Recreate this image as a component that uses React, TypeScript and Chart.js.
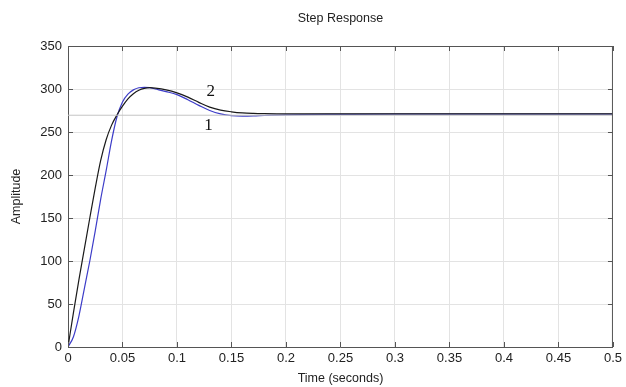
import { useEffect, useRef } from 'react';
import { Chart, registerables } from 'chart.js';

Chart.register(...registerables);

// ---- data ----
const timeS = [0, 0.005, 0.01, 0.015, 0.02, 0.025, 0.03, 0.035, 0.04, 0.045, 0.05, 0.055, 0.06, 0.065, 0.07, 0.075, 0.08, 0.09, 0.1, 0.11, 0.12, 0.13, 0.14, 0.15, 0.16, 0.17, 0.18, 0.2, 0.25, 0.3, 0.35, 0.4, 0.45, 0.5];
// curve 1 (blue)
const response1 = [0, 12, 36, 68, 100, 135, 172, 205, 240, 268, 285, 294, 299, 301.5, 302, 301.5, 300, 297, 293.5, 287.5, 281, 275, 271, 269, 268.5, 268.7, 269.2, 270, 270.5, 270.8, 270.8, 270.8, 270.8, 270.8];
// curve 2 (black)
const response2 = [0, 40, 78, 114, 150, 185, 217, 241, 258, 270, 280, 288.5, 294.5, 298.5, 300.7, 301.5, 301, 299, 295.5, 290.5, 284.5, 279, 275.5, 273.5, 272.2, 271.6, 271.3, 271, 271, 271, 271, 271, 271, 271];
const steadyLevel = 269.5;

const xTicks = [0, 0.05, 0.1, 0.15, 0.2, 0.25, 0.3, 0.35, 0.4, 0.45, 0.5];
const xTickLabels = ['0', '0.05', '0.1', '0.15', '0.2', '0.25', '0.3', '0.35', '0.4', '0.45', '0.5'];
const yTicks = [0, 50, 100, 150, 200, 250, 300, 350];
const yTickLabels = ['0', '50', '100', '150', '200', '250', '300', '350'];

const curveLabels = ['1', '2'];
const curveLabelT = [0.129, 0.131];
const curveLabelV = [257, 296.5];

const titleText = 'Step Response';
const xTitle = 'Time (seconds)';
const yTitle = 'Amplitude';

const SANS = '"Liberation Sans", Arial, Helvetica, sans-serif';
const SERIF = '"Liberation Serif", "Times New Roman", serif';

const framePlugin = {
  id: 'frame',
  afterDatasetsDraw(chart: any) {
    const { ctx, chartArea } = chart;
    const { left, right, top, bottom } = chartArea;
    const xs = chart.scales.x;
    const ys = chart.scales.y;
    ctx.save();
    // curve labels
    ctx.fillStyle = '#111';
    ctx.font = `17px ${SERIF}`;
    ctx.textAlign = 'center';
    ctx.textBaseline = 'middle';
    curveLabels.forEach((l, i) => {
      ctx.fillText(l, xs.getPixelForValue(curveLabelT[i]), ys.getPixelForValue(curveLabelV[i]));
    });
    // box top and right
    ctx.strokeStyle = '#555';
    ctx.lineWidth = 1;
    ctx.beginPath();
    ctx.moveTo(left, top + 0.5);
    ctx.lineTo(right, top + 0.5);
    ctx.moveTo(right - 0.5, top);
    ctx.lineTo(right - 0.5, bottom);
    ctx.stroke();
    // inner ticks
    const tl = 5;
    ctx.beginPath();
    xTicks.forEach((v) => {
      const px = Math.round(xs.getPixelForValue(v)) + 0.5;
      ctx.moveTo(px, bottom);
      ctx.lineTo(px, bottom - tl);
      ctx.moveTo(px, top);
      ctx.lineTo(px, top + tl);
    });
    yTicks.forEach((v) => {
      const py = Math.round(ys.getPixelForValue(v)) + 0.5;
      ctx.moveTo(left, py);
      ctx.lineTo(left + tl, py);
      ctx.moveTo(right, py);
      ctx.lineTo(right - tl, py);
    });
    ctx.stroke();
    // titles
    ctx.fillStyle = '#222';
    ctx.font = `12.5px ${SANS}`;
    ctx.textAlign = 'center';
    ctx.textBaseline = 'middle';
    const cx = (left + right) / 2;
    ctx.fillText(titleText, cx, 19);
    ctx.fillText(xTitle, cx, 379);
    ctx.translate(17, (top + bottom) / 2);
    ctx.rotate(-Math.PI / 2);
    ctx.fillText(yTitle, 0, 0);
    ctx.restore();
  },
};

export default function App() {
  const ref = useRef<HTMLCanvasElement>(null);
  useEffect(() => {
    if (!ref.current) return;
    const tickFont = { family: SANS, size: 13 };
    const chart = new Chart(ref.current, {
      type: 'line',
      data: {
        datasets: [
          {
            label: 'steady',
            data: [
              { x: 0, y: steadyLevel },
              { x: 0.5, y: steadyLevel },
            ],
            borderColor: '#c4c4c4',
            borderWidth: 1,
            pointRadius: 0,
          },
          {
            label: '2',
            data: timeS.map((t, i) => ({ x: t, y: response2[i] })),
            borderColor: '#1a1a1a',
            borderWidth: 1.2,
            pointRadius: 0,
            cubicInterpolationMode: 'monotone',
          },
          {
            label: '1',
            data: timeS.map((t, i) => ({ x: t, y: response1[i] })),
            borderColor: '#3c3cc8',
            borderWidth: 1.2,
            pointRadius: 0,
            cubicInterpolationMode: 'monotone',
          },
        ],
      },
      options: {
        animation: false,
        responsive: false,
        layout: { padding: { top: 46, right: 9, left: 0, bottom: 0 } },
        plugins: { legend: { display: false }, tooltip: { enabled: false }, title: { display: false } },
        scales: {
          x: {
            type: 'linear',
            min: 0,
            max: 0.5,
            afterBuildTicks: (s: any) => {
              s.ticks = xTicks.map((v) => ({ value: v }));
            },
            afterFit: (s: any) => {
              s.height = 40;
            },
            ticks: {
              callback: (_v: any, i: number) => xTickLabels[i],
              maxRotation: 0,
              autoSkip: false,
              padding: 4,
              font: tickFont,
              color: '#222',
            },
            grid: { color: '#e3e3e3', drawTicks: false },
            border: { color: '#555' },
          },
          y: {
            type: 'linear',
            min: 0,
            max: 350,
            afterBuildTicks: (s: any) => {
              s.ticks = yTicks.map((v) => ({ value: v }));
            },
            afterFit: (s: any) => {
              s.width = 68;
            },
            ticks: {
              callback: (_v: any, i: number) => yTickLabels[i],
              autoSkip: false,
              padding: 6,
              font: tickFont,
              color: '#222',
            },
            grid: { color: '#e3e3e3', drawTicks: false },
            border: { color: '#555' },
          },
        },
      },
      plugins: [framePlugin],
    } as any);
    return () => chart.destroy();
  }, []);
  return (
    <div style={{ position: 'fixed', left: 0, top: 0, width: 626, height: 387, background: '#fff' }}>
      <canvas ref={ref} width={626} height={387} style={{ display: 'block' }} />
    </div>
  );
}
